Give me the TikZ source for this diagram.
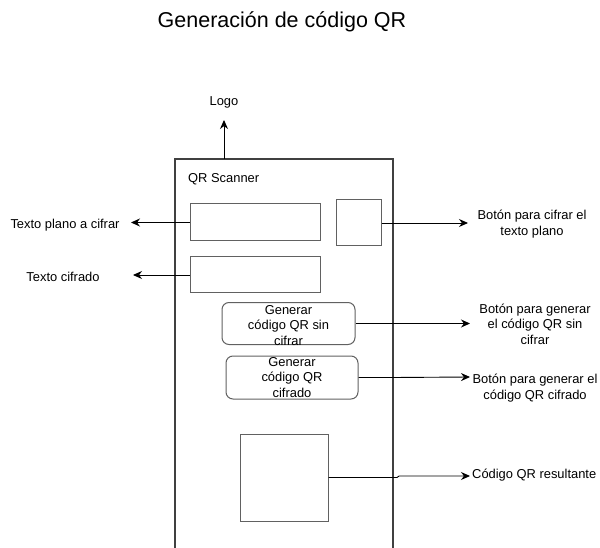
\documentclass[tikz,border=0pt]{standalone}
\usepackage{fontspec}
\setmainfont{Liberation Sans}
\usetikzlibrary{arrows.meta}

\begin{document}
\begin{tikzpicture}[x=1pt, y=-1pt,
  every node/.style={font=\fontsize{12.9}{15.5}\selectfont, align=center},
  frame/.style={draw=black!75, line width=1.1pt},
  field/.style={draw=black!62, line width=1pt, inner sep=0pt},
  button/.style={field, rounded corners=7pt},
  link/.style={line width=0.9pt, -{Stealth[length=9pt,width=8pt]}}]
  \useasboundingbox (0,0) rectangle (600,548);
  \clip (0,0) rectangle (600,548);

  \node (title) [font=\fontsize{21.5}{26}\selectfont] at (282,22) {Generación de código QR};

  % pantalla
  \draw[frame] (175,560) |- (393,159) -- (393,560);
  \node (scanner) [anchor=west, inner sep=0pt] at (188,179) {QR Scanner};
  \node (plano) [field, minimum width=130pt, minimum height=37pt] at (255,222.5) {};
  \node (cifrado) [field, minimum width=130pt, minimum height=36pt] at (255,275) {};
  \node (cifrar) [field, minimum width=45pt, minimum height=46pt] at (358.5,223) {};
  \node (genA) [button, minimum width=133pt, minimum height=42pt,
    label={[yshift=-2pt]center:Generar\\código QR sin\\cifrar}] at (288.5,323.5) {};
  \node (genB) [button, minimum width=132pt, minimum height=43pt,
    label={center:Generar\\código QR\\cifrado}] at (292,377.5) {};
  \node (qr) [field, minimum width=88pt, minimum height=87pt] at (284,477.5) {};

  % etiquetas
  \node (logo) at (224,102) {Logo};
  \node (lplano) at (65,225) {Texto plano a cifrar};
  \node (lcifrado) at (63,277) {Texto cifrado};
  \node (lcifrar) at (532,224) {Botón para cifrar el\\texto plano};
  \node (lgenA) at (535,324) {Botón para generar\\el código QR sin\\cifrar};
  \node (lgenB) at (535,388) {Botón para generar el\\código QR cifrado};
  \node (lqr) [anchor=west, inner sep=0pt] at (472,475.5) {Código QR resultante};

  \coordinate (logoFoot) at (224,159);
  \coordinate (tipLogo) at (224,120);
  \coordinate (tipPlano) at (131,222.5);
  \coordinate (tipCifrado) at (133,273);
  \coordinate (tipCifrar) at (468,223);
  \coordinate (tipGenA) at (470,323.5);
  \coordinate (tipGenB) at (470,377);
  \coordinate (tipQr) at (470,476);

  \draw[link] (logoFoot) -- (tipLogo);
  \draw[link] (plano.west) -- (tipPlano);
  \draw[link] (cifrado.west) -- (cifrado.west -| tipCifrado);
  \draw[link] (cifrar.east) -- (tipCifrar);
  \draw[link] (genA.east) -- (tipGenA);
  \draw[link] (genB.east) -- (genB.east -| 393,0) -- (tipGenB);
  \draw[link] (qr.east) -- (397,477.5) -- (399,476) -- (tipQr);
\end{tikzpicture}
\end{document}
